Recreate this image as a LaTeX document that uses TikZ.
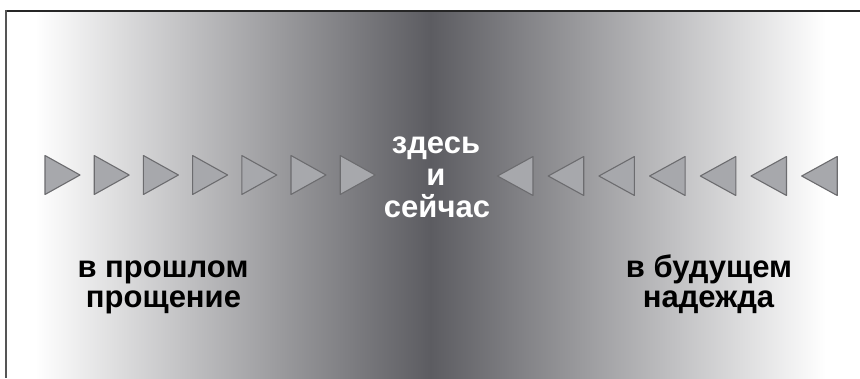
\documentclass[tikz,border=0pt]{standalone}
\usepackage{fontspec}
\setmainfont{Liberation Sans}
\definecolor{cdark}{RGB}{92,92,97}
\definecolor{trifill}{RGB}{167,168,172}
\definecolor{tridraw}{RGB}{108,108,111}
\definecolor{leftline}{RGB}{85,85,85}
\tikzset{
  tri/.style={fill=trifill, draw=tridraw, line width=1.1pt, line join=round},
  centertext/.style={anchor=base, text=white, inner sep=0pt, font=\bfseries\fontsize{31}{32}\selectfont},
  sidetext/.style={anchor=base, text=black, inner sep=0pt, font=\bfseries\fontsize{31}{32}\selectfont}
}
\begin{document}
\begin{tikzpicture}[x=1pt,y=-1pt]
\useasboundingbox (0,0) rectangle (860,378);
\fill[white] (0,0) rectangle (860,378);
% background gradient
\fill[white] (6,11) rectangle (35,378);
\shade[left color=white, right color=cdark] (35,11) rectangle (431,378);
\shade[left color=cdark, right color=white] (430,11) rectangle (826,378);
\fill[white] (825,11) rectangle (860,378);
% frame (top and left visible)
\draw[black!85, line width=2pt] (5,10.5) -- (860,10.5);
\draw[leftline, line width=2pt] (5.5,10) -- (5.5,378);
% left triangles pointing right
\foreach \i in {0,...,6}{
  \pgfmathsetmacro{\xa}{45+49.2*\i}
  \draw[tri] (\xa,155.5) -- (\xa+35,175) -- (\xa,194.5) -- cycle;
}
% right triangles pointing left
\foreach \i in {0,...,6}{
  \pgfmathsetmacro{\xb}{497.5+50.7*\i}
  \draw[tri] (\xb,176) -- (\xb+35.5,156.5) -- (\xb+35.5,195.5) -- cycle;
}
% centre text
\node[centertext] (c1) at (436,153) {здесь};
\node[centertext] (c2) at (436,185) {и};
\node[centertext] (c3) at (437,217) {сейчас};
% side texts
\node[sidetext] (l1) at (163,277) {в прошлом};
\node[sidetext] (l2) at (163.5,307) {прощение};
\node[sidetext] (r1) at (709,277) {в будущем};
\node[sidetext] (r2) at (708.5,307) {надежда};
\end{tikzpicture}
\end{document}
